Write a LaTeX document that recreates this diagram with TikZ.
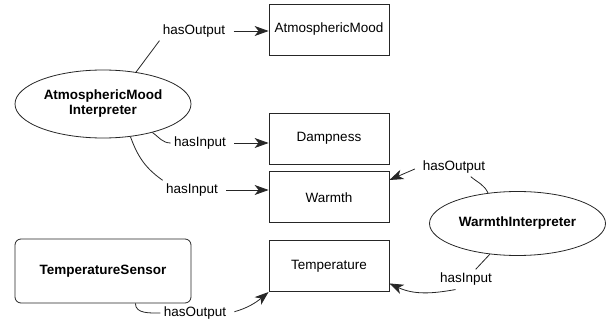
\documentclass[tikz,border=0pt]{standalone}
\usepackage{fontspec}
\setmainfont{Liberation Sans}
\usepackage{tikz}
\usetikzlibrary{positioning,shapes.geometric,arrows.meta}
\newcommand{\labelfont}{\fontsize{13.5}{15}\selectfont}
\tikzstyle{classNode} = [draw, rectangle, minimum width=120pt, minimum height=51pt, text centered]
\tikzstyle{procNode} = [draw, ellipse, minimum width=176pt, minimum height=64pt, inner sep=0pt, align=center, font=\labelfont\bfseries]
\tikzstyle{sensorNode} = [draw, rectangle, rounded corners=6pt, minimum width=176pt, minimum height=64pt, font=\labelfont\bfseries]
\tikzstyle{relNode} = [inner sep=3pt]
\tikzstyle{relArrow} = [-{Stealth[length=14pt,width=10pt,inset=4pt]}, shorten <=5pt]

\begin{document}
\begin{tikzpicture}[x=1pt,y=-1pt,line width=0.8pt,draw=black!85,font=\labelfont]
            \useasboundingbox (0,0) rectangle (611,326);
            \node (atmoMood) at (329,29.5) [classNode] {AtmosphericMood};
            \node (dampness) at (329,138.5) [classNode] {Dampness};
            \node (warmth)[classNode, below=7pt of dampness] {Warmth};
            \node (temperature)[classNode, below=17pt of warmth] {Temperature};
            \node (atmoInterp) at (103,104) [procNode, minimum height=68pt] {AtmosphericMood\\Interpreter};
            \node (warmthInterp) at (517.5,223.5) [procNode] {WarmthInterpreter};
            \node (tempSensor) at (103,271) [sensorNode] {TemperatureSensor};
            \node (outMood) at (194,31) [relNode] {hasOutput};
            \node (inDamp) at (200,143) [relNode] {hasInput};
            \node (inWarmth) at (192,190) [relNode] {hasInput};
            \node (outWarmth) at (454,167) [relNode] {hasOutput};
            \node (inTemp) at (466,279) [relNode] {hasInput};
            \node (outTemp) at (195,313) [relNode] {hasOutput};
            \draw (atmoInterp.44) -- (outMood.south west);
            \draw[relArrow] (outMood.east) -- (outMood.east -| atmoMood.west);
            \draw (atmoInterp.-30) to[out=-35,in=180] (inDamp.west);
            \draw[relArrow] (inDamp.east) -- (inDamp.east -| dampness.west);
            \draw (atmoInterp.-50) to[out=-70,in=145] (inWarmth.north west);
            \draw[relArrow] (inWarmth.east) -- (inWarmth.east -| warmth.west);
            \draw (warmthInterp.134) to[out=115,in=-40] (outWarmth.-30);
            \draw[relArrow] (outWarmth.west) -- (warmth.16);
            \draw (warmthInterp.228) -- (inTemp.45);
            \draw[relArrow] (inTemp.-120) to[out=190,in=-25] (temperature.-16);
            \draw (tempSensor.-45) to[out=-90,in=180] (outTemp.west);
            \draw[relArrow] (outTemp.east) to[out=15,in=-140] (temperature.south west);
        \end{tikzpicture}
\end{document}
